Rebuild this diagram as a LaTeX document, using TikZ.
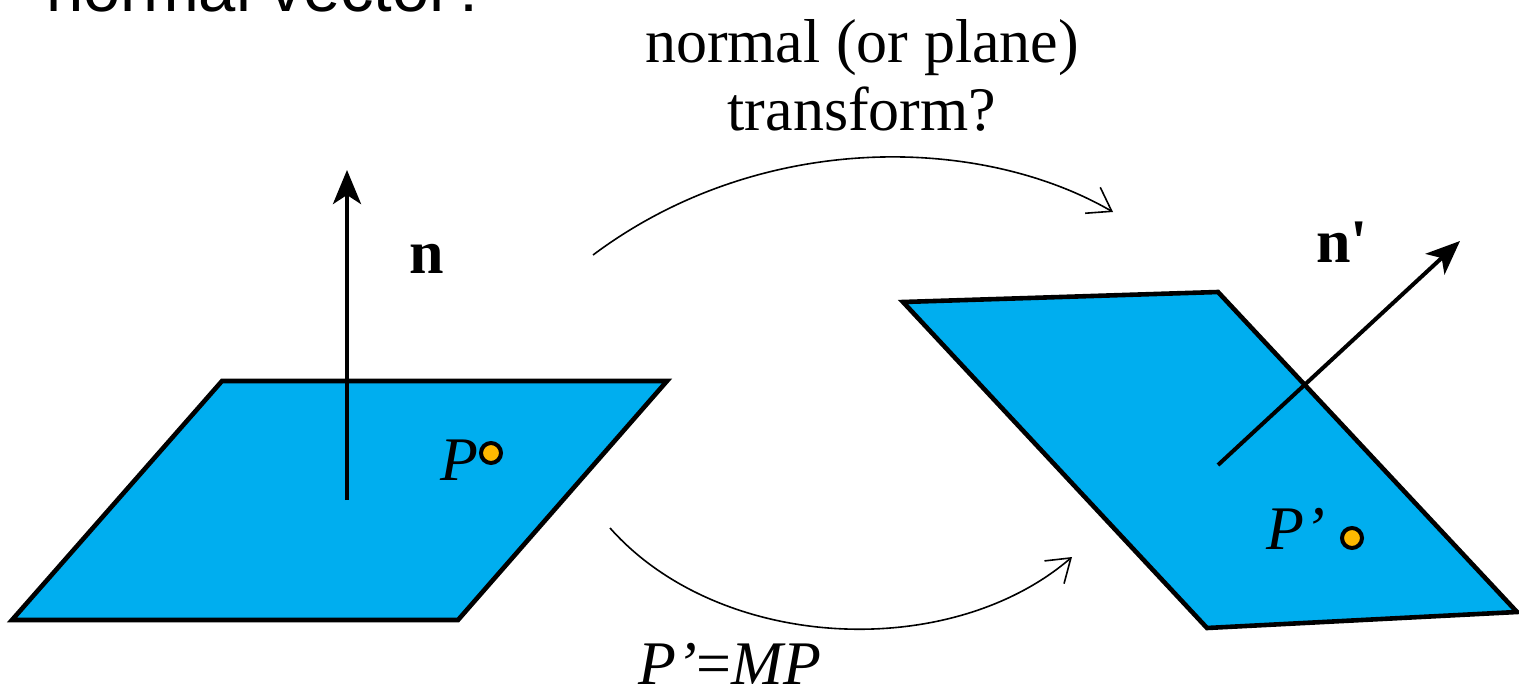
\documentclass[tikz,border=0pt]{standalone}
\usepackage{fontspec}
\setmainfont{Liberation Serif}
\newfontfamily\arialfont{Liberation Sans}
\usetikzlibrary{arrows.meta}
\definecolor{planeblue}{HTML}{00AEEF}
\definecolor{dotorange}{HTML}{FFB900}
\tikzset{
  plane/.style={fill=planeblue, draw=black, line width=4.6pt, line join=miter},
  normalarrow/.style={line width=4pt, -{Stealth[length=34pt,width=28pt,inset=9pt]}},
  maparrow/.style={line width=1.6pt, -{Straight Barb[length=22pt,width=30pt]}},
  ptdot/.style={circle, draw=black, line width=4pt, fill=dotorange, minimum size=20pt, inner sep=0pt},
  lbl/.style={inner sep=0pt, anchor=base west, font=\fontsize{62}{68}\selectfont}
}
\begin{document}
\begin{tikzpicture}[x=1pt,y=-1pt]
\useasboundingbox (0,0) rectangle (1519,691);
% title (cropped)
\node[inner sep=0pt, anchor=base west, font=\arialfont\fontsize{67}{70}\selectfont] (title) at (46,11) {normal vector?};
% left plane
\draw[plane] (12,620) -- (222,381) -- (667,381) -- (458,620) -- cycle;
% right plane
\draw[plane] (903,302) -- (1218,292) -- (1517,612) -- (1207,628) -- cycle;
% normals
\coordinate (nbase) at (347,500);
\coordinate (ntip) at (347,170);
\draw[normalarrow] (nbase) -- (ntip);
\coordinate (nbase2) at (1218,465);
\coordinate (ntip2) at (1460,241);
\draw[normalarrow] (nbase2) -- (ntip2);
% labels
\node[lbl] (n) at (409,273) {\textbf{n}};
\node[lbl] (n2) at (1316,262) {\textbf{n\textquotesingle}};
\node[lbl] (P) at (440,480) {\textit{P}};
\node[ptdot] (dotP) at (491,453) {};
\node[lbl] (P2) at (1266,549) {\textit{P’}};
\node[ptdot] (dotP2) at (1352,538) {};
\node[lbl] (eq) at (638,684) {\textit{P’}=\textit{MP}};
\node[inner sep=0pt, anchor=base, font=\fontsize{62}{68}\selectfont] (q1) at (862,62) {normal (or plane)};
\node[inner sep=0pt, anchor=base, font=\fontsize{62}{68}\selectfont] (q2) at (862,130) {transform?};
% mapping arrows
\coordinate (a1) at (593,255);
\coordinate (b1) at (1113,212);
\draw[maparrow] (a1) .. controls (760,130) and (980,135) .. (b1);
\coordinate (a2) at (610,528);
\coordinate (b2) at (1072,557);
\draw[maparrow] (a2) .. controls (720,652) and (950,662) .. (b2);
\end{tikzpicture}
\end{document}
